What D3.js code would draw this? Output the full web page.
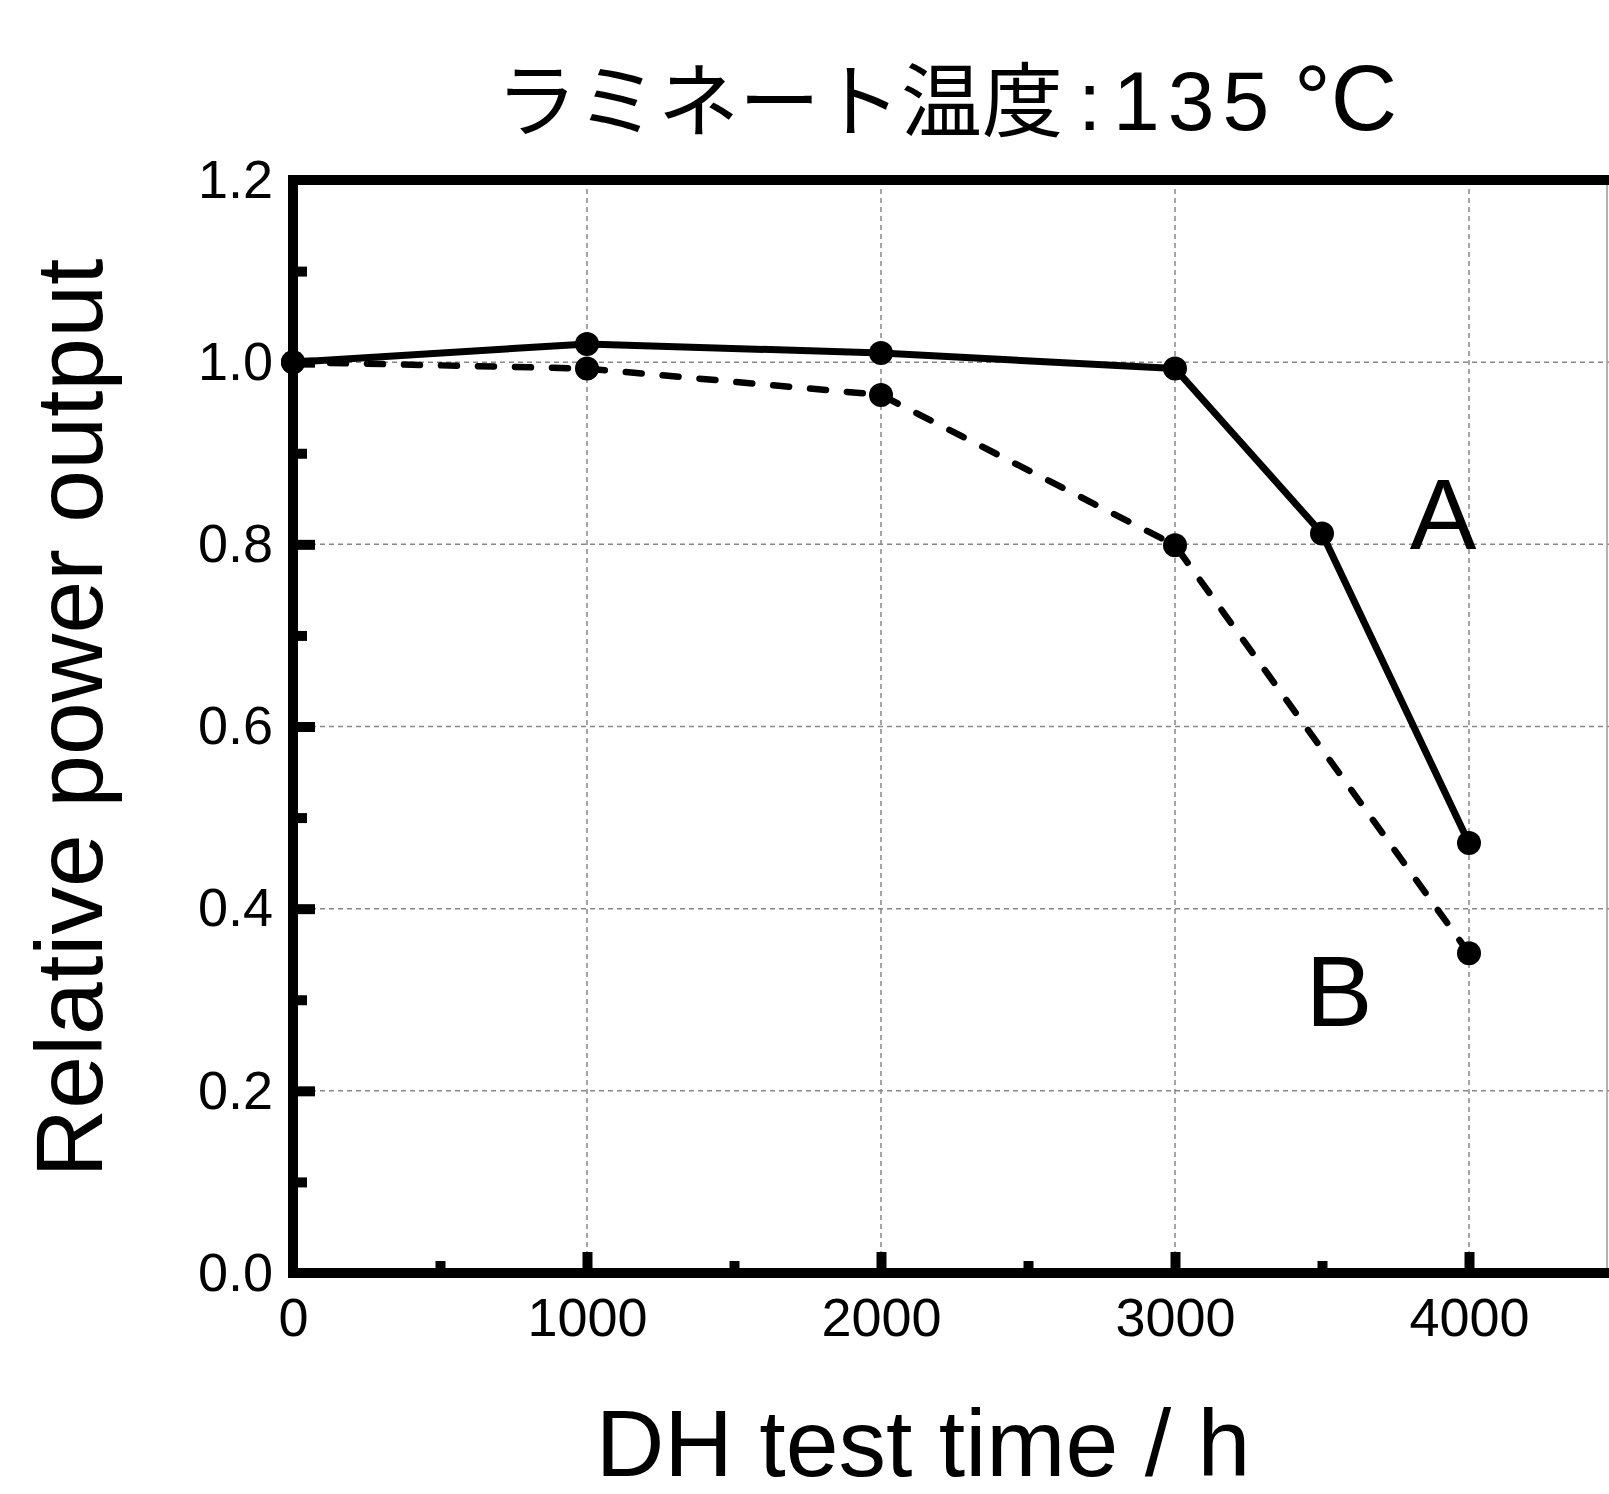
<!DOCTYPE html>
<html>
<head>
<meta charset="utf-8">
<script src="https://cdn.jsdelivr.net/npm/d3@7"></script>
<style>
  body { margin: 0; background: #fff; }
  svg { display: block; }
</style>
</head>
<body>
<div id="chart"></div>
<script>
// data
var hours = [0, 1000, 2000, 3000, 3500, 4000];
var seriesA = [1.0, 1.02, 1.01, 0.993, 0.812, 0.472];
var hoursB = [0, 1000, 2000, 3000, 4000];
var seriesB = [1.0, 0.993, 0.964, 0.799, 0.351];
var xMajor = [1000, 2000, 3000, 4000];
var xMinor = [500, 1500, 2500, 3500];
var yMajor = [0.2, 0.4, 0.6, 0.8, 1.0];
var yMinor = [0.1, 0.3, 0.5, 0.7, 0.9, 1.1];
var xLabels = [0, 1000, 2000, 3000, 4000];
var yLabels = [0, 0.2, 0.4, 0.6, 0.8, 1.0, 1.2];

var W = 1609, H = 1494;
var x = d3.scaleLinear().domain([0, 4500]).range([293, 1616]);
var y = d3.scaleLinear().domain([0, 1.2]).range([1273, 180]);

var svg = d3.select("#chart").append("svg")
    .attr("width", W).attr("height", H)
    .style("font-family", "'Liberation Sans', Arial, sans-serif");

// grid
var grid = svg.append("g")
    .attr("stroke", "#888").attr("stroke-width", 1.5)
    .attr("stroke-dasharray", "5,4");
grid.selectAll(".vg").data(xMajor).enter().append("line")
    .attr("x1", function(d){ return x(d); }).attr("x2", function(d){ return x(d); })
    .attr("y1", y(1.2)).attr("y2", y(0));
grid.selectAll(".hg").data(yMajor).enter().append("line")
    .attr("x1", x(0)).attr("x2", W)
    .attr("y1", function(d){ return y(d); }).attr("y2", function(d){ return y(d); });

// thin right border
svg.append("line")
    .attr("x1", 1607).attr("x2", 1607)
    .attr("y1", y(1.2)).attr("y2", y(0))
    .attr("stroke", "#999").attr("stroke-width", 1.5);

// axes: labels + major ticks, then minor ticks
function styleAxis(g){
    g.select(".domain").remove();
    g.selectAll(".tick line").attr("stroke", "#000").attr("stroke-width", 10);
    g.selectAll(".tick text").attr("fill", "#000").style("font-size", "54px")
        .style("font-family", "'Liberation Sans', Arial, sans-serif");
}
var xAxis = svg.append("g")
    .attr("transform", "translate(0," + y(0) + ")")
    .call(d3.axisBottom(x).tickValues(xLabels).tickFormat(d3.format("d"))
        .tickSizeInner(-21).tickSizeOuter(0).tickPadding(25))
    .call(styleAxis);
xAxis.selectAll(".tick").filter(function(d){ return d === 0; }).select("line").remove();

svg.append("g")
    .attr("transform", "translate(0," + y(0) + ")")
    .call(d3.axisBottom(x).tickValues(xMinor).tickFormat("")
        .tickSizeInner(-12).tickSizeOuter(0))
    .call(styleAxis);

var yAxis = svg.append("g")
    .attr("transform", "translate(" + x(0) + ",0)")
    .call(d3.axisLeft(y).tickValues(yLabels).tickFormat(d3.format(".1f"))
        .tickSizeInner(-22).tickSizeOuter(0).tickPadding(20))
    .call(styleAxis);
yAxis.selectAll(".tick").filter(function(d){ return d === 0 || d === 1.2; }).select("line").remove();

svg.append("g")
    .attr("transform", "translate(" + x(0) + ",0)")
    .call(d3.axisLeft(y).tickValues(yMinor).tickFormat("")
        .tickSizeInner(-14).tickSizeOuter(0))
    .call(styleAxis);

// frame (left, bottom, top)
var frame = svg.append("g").attr("stroke", "#000").attr("stroke-width", 10)
    .attr("fill", "none");
frame.append("line").attr("x1", x(0)).attr("x2", x(0))
    .attr("y1", y(1.2) - 5).attr("y2", y(0) + 5);
frame.append("line").attr("x1", x(0) - 5).attr("x2", W)
    .attr("y1", y(0)).attr("y2", y(0));
frame.append("line").attr("x1", x(0) - 5).attr("x2", W)
    .attr("y1", y(1.2)).attr("y2", y(1.2));

// series
var lineA = d3.line()
    .x(function(d, i){ return x(hours[i]); })
    .y(function(d){ return y(d); });
var lineB = d3.line()
    .x(function(d, i){ return x(hoursB[i]); })
    .y(function(d){ return y(d); });

svg.append("path")
    .attr("d", lineB(seriesB))
    .attr("fill", "none").attr("stroke", "#000").attr("stroke-width", 6.5)
    .attr("stroke-linecap", "round").attr("stroke-dasharray", "16,21");
svg.append("path")
    .attr("d", lineA(seriesA))
    .attr("fill", "none").attr("stroke", "#000").attr("stroke-width", 7)
    .attr("stroke-linejoin", "round");

svg.selectAll(".ptB").data(seriesB).enter().append("circle")
    .attr("cx", function(d, i){ return x(hoursB[i]); })
    .attr("cy", function(d){ return y(d); })
    .attr("r", 12).attr("fill", "#000");
svg.selectAll(".ptA").data(seriesA).enter().append("circle")
    .attr("cx", function(d, i){ return x(hours[i]); })
    .attr("cy", function(d){ return y(d); })
    .attr("r", 12).attr("fill", "#000");

// series labels
svg.append("text").attr("x", 1443).attr("y", 549)
    .attr("text-anchor", "middle").style("font-size", "100px").text("A");
svg.append("text").attr("x", 1339).attr("y", 1026)
    .attr("text-anchor", "middle").style("font-size", "100px").text("B");

// title
var title = svg.append("text").attr("x", 496).attr("y", 130);
title.append("tspan")
    .style("font-family", "'Noto Sans CJK JP', sans-serif")
    .style("font-size", "81px")
    .text("ラミネート温度");
title.append("tspan").attr("x", 1078).style("font-size", "84px").text(":");
title.append("tspan").attr("x", 1113).style("font-size", "84px")
    .style("letter-spacing", "8px").text("135");
title.append("tspan").attr("x", 1294).style("font-size", "92px").text("°C");

// axis titles
svg.append("text")
    .attr("transform", "translate(102,718) rotate(-90)")
    .attr("text-anchor", "middle").style("font-size", "95px")
    .text("Relative power output");
svg.append("text")
    .attr("x", 923).attr("y", 1476)
    .attr("text-anchor", "middle").style("font-size", "95px")
    .text("DH test time / h");
</script>
</body>
</html>
